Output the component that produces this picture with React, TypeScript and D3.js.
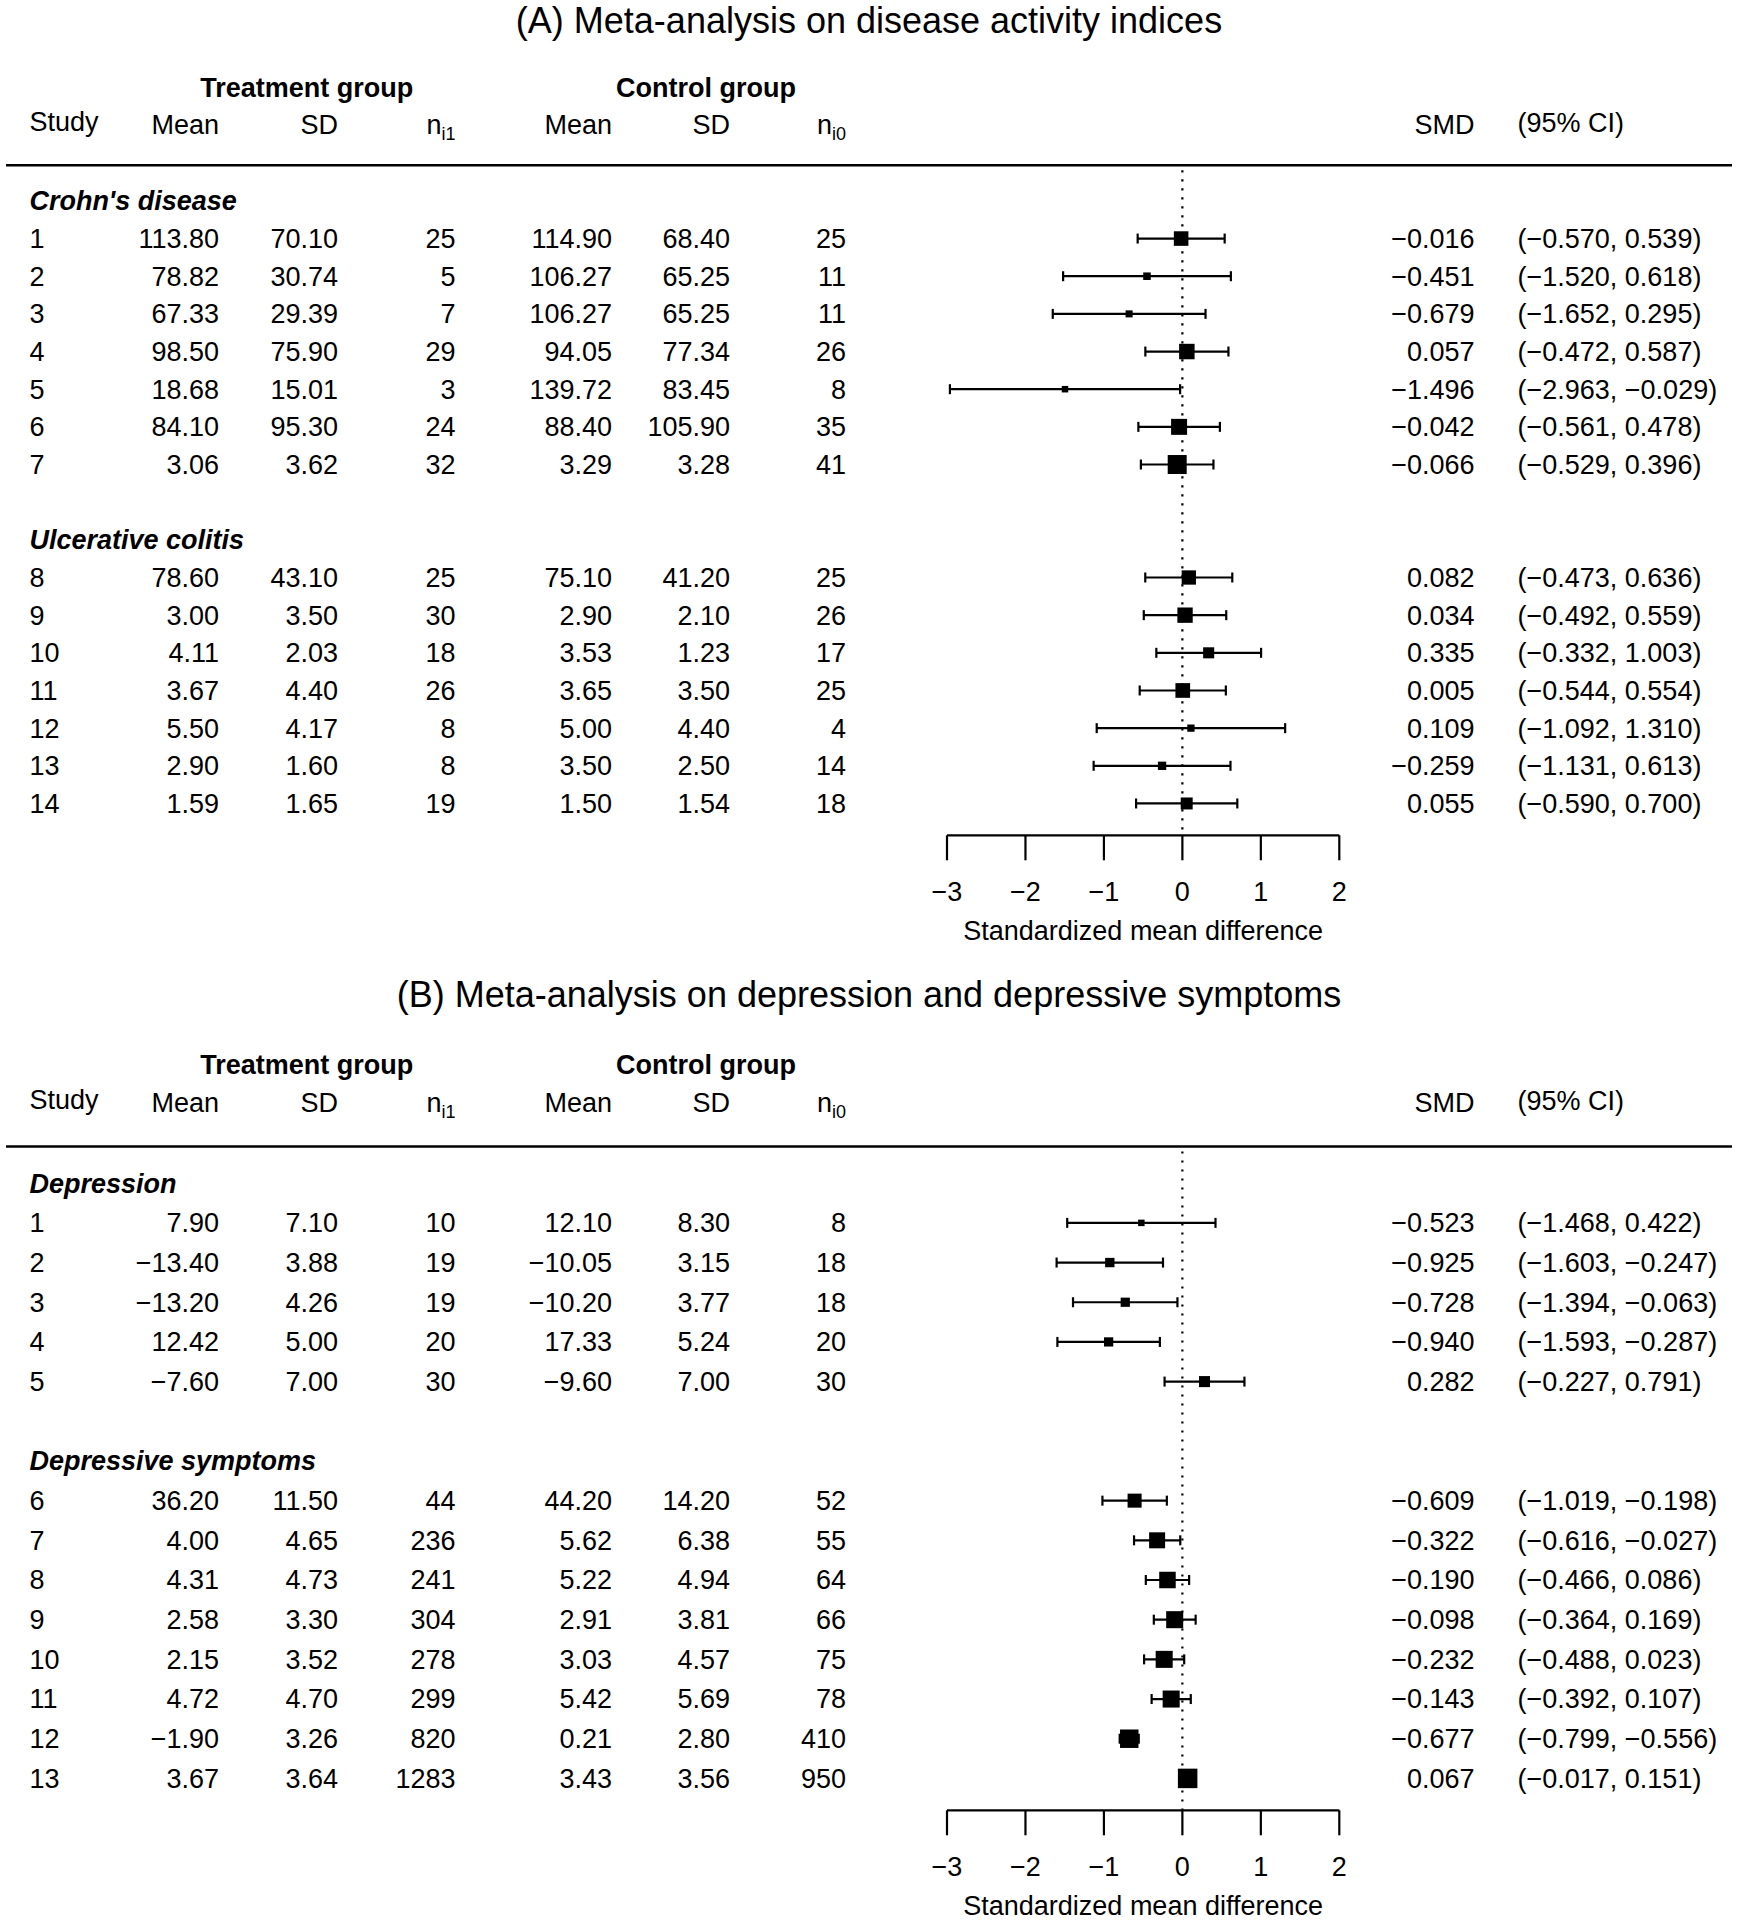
import React from "react";
import * as d3 from "d3";

// ---------- Panel A data ----------
const titleA = "(A) Meta-analysis on disease activity indices";
const groupLabelsA = ["Crohn's disease", "Ulcerative colitis"];
const groupSizesA = [7, 7];
const studyA = [1, 2, 3, 4, 5, 6, 7, 8, 9, 10, 11, 12, 13, 14];
const meanTA = [113.8, 78.82, 67.33, 98.5, 18.68, 84.1, 3.06, 78.6, 3.0, 4.11, 3.67, 5.5, 2.9, 1.59];
const sdTA = [70.1, 30.74, 29.39, 75.9, 15.01, 95.3, 3.62, 43.1, 3.5, 2.03, 4.4, 4.17, 1.6, 1.65];
const nTA = [25, 5, 7, 29, 3, 24, 32, 25, 30, 18, 26, 8, 8, 19];
const meanCA = [114.9, 106.27, 106.27, 94.05, 139.72, 88.4, 3.29, 75.1, 2.9, 3.53, 3.65, 5.0, 3.5, 1.5];
const sdCA = [68.4, 65.25, 65.25, 77.34, 83.45, 105.9, 3.28, 41.2, 2.1, 1.23, 3.5, 4.4, 2.5, 1.54];
const nCA = [25, 11, 11, 26, 8, 35, 41, 25, 26, 17, 25, 4, 14, 18];
const smdA = [-0.016, -0.451, -0.679, 0.057, -1.496, -0.042, -0.066, 0.082, 0.034, 0.335, 0.005, 0.109, -0.259, 0.055];
const lowerA = [-0.57, -1.52, -1.652, -0.472, -2.963, -0.561, -0.529, -0.473, -0.492, -0.332, -0.544, -1.092, -1.131, -0.59];
const upperA = [0.539, 0.618, 0.295, 0.587, -0.029, 0.478, 0.396, 0.636, 0.559, 1.003, 0.554, 1.31, 0.613, 0.7];
const weightA = [1.12, 0.58, 0.54, 1.19, 0.5, 1.23, 1.46, 1.1, 1.18, 0.85, 1.13, 0.56, 0.64, 0.92];

// ---------- Panel B data ----------
const titleB = "(B) Meta-analysis on depression and depressive symptoms";
const groupLabelsB = ["Depression", "Depressive symptoms"];
const groupSizesB = [5, 8];
const studyB = [1, 2, 3, 4, 5, 6, 7, 8, 9, 10, 11, 12, 13];
const meanTB = [7.9, -13.4, -13.2, 12.42, -7.6, 36.2, 4.0, 4.31, 2.58, 2.15, 4.72, -1.9, 3.67];
const sdTB = [7.1, 3.88, 4.26, 5.0, 7.0, 11.5, 4.65, 4.73, 3.3, 3.52, 4.7, 3.26, 3.64];
const nTB = [10, 19, 19, 20, 30, 44, 236, 241, 304, 278, 299, 820, 1283];
const meanCB = [12.1, -10.05, -10.2, 17.33, -9.6, 44.2, 5.62, 5.22, 2.91, 3.03, 5.42, 0.21, 3.43];
const sdCB = [8.3, 3.15, 3.77, 5.24, 7.0, 14.2, 6.38, 4.94, 3.81, 4.57, 5.69, 2.8, 3.56];
const nCB = [8, 18, 18, 20, 30, 52, 55, 64, 66, 75, 78, 410, 950];
const smdB = [-0.523, -0.925, -0.728, -0.94, 0.282, -0.609, -0.322, -0.19, -0.098, -0.232, -0.143, -0.677, 0.067];
const lowerB = [-1.468, -1.603, -1.394, -1.593, -0.227, -1.019, -0.616, -0.466, -0.364, -0.488, -0.392, -0.799, -0.017];
const upperB = [0.422, -0.247, -0.063, -0.287, 0.791, -0.198, -0.027, 0.086, 0.169, 0.023, 0.107, -0.556, 0.151];
const weightB = [0.5, 0.72, 0.71, 0.71, 0.85, 1.08, 1.23, 1.27, 1.31, 1.31, 1.31, 1.42, 1.5];

// axis
const axisTicks = [-3, -2, -1, 0, 1, 2];
const axisTitle = "Standardized mean difference";

const FONT = "'Liberation Sans', Arial, Helvetica, sans-serif";
const FS = 27;
const TITLE_FS = 36;
const fmt2 = d3.format(".2f");
const fmt3 = d3.format(".3f");
const fmtTick = d3.format("d");

const W = 1738;
const H = 1920;

const COL = {
  study: 29.4,
  meanT: 219,
  sdT: 338,
  nT: 455.6,
  meanC: 612,
  sdC: 730,
  nC: 846,
  smd: 1474.6,
  ci: 1517.5,
  treatHdr: 306.8,
  ctrlHdr: 706,
};

const x = d3.scaleLinear().domain([-3, 2]).range([947, 1339.3]);
const markerSize = d3.scaleLinear().domain([0, 1]).range([0, 13]);

type PanelProps = {
  title: string;
  groupLabels: string[];
  groupSizes: number[];
  study: number[];
  meanT: number[];
  sdT: number[];
  nT: number[];
  meanC: number[];
  sdC: number[];
  nC: number[];
  smd: number[];
  lower: number[];
  upper: number[];
  weight: number[];
  geo: {
    titleY: number;
    groupHdrY: number;
    colHdrY: number;
    hlineY: number;
    firstRowY: number;
    step: number;
    axisY: number;
  };
};

function Txt(props: any) {
  const { children, ...rest } = props;
  return (
    <text fontFamily={FONT} fontSize={FS} fill="#000" dy="0.35em" {...rest}>
      {children}
    </text>
  );
}

function Panel(p: PanelProps) {
  const g = p.geo;
  const rowY = d3.scaleLinear().domain([0, 1]).range([g.firstRowY, g.firstRowY + g.step]);

  const labelRows: { label: string; idx: number }[] = [];
  const studyRows: number[] = [];
  let idx = 0;
  let s = 0;
  p.groupLabels.forEach((lab, gi) => {
    labelRows.push({ label: lab, idx });
    for (let k = 0; k < p.groupSizes[gi]; k++) {
      studyRows[s] = idx + 1 + k;
      s++;
    }
    idx = idx + p.groupSizes[gi] + 2;
  });

  const capH = 5;

  return (
    <g>
      <Txt x={W / 2} y={g.titleY} textAnchor="middle" fontSize={TITLE_FS}>
        {p.title}
      </Txt>
      <Txt x={COL.treatHdr} y={g.groupHdrY} textAnchor="middle" fontWeight="bold">
        Treatment group
      </Txt>
      <Txt x={COL.ctrlHdr} y={g.groupHdrY} textAnchor="middle" fontWeight="bold">
        Control group
      </Txt>
      <Txt x={COL.study} y={g.colHdrY - 3}>Study</Txt>
      <Txt x={COL.meanT} y={g.colHdrY} textAnchor="end">Mean</Txt>
      <Txt x={COL.sdT} y={g.colHdrY} textAnchor="end">SD</Txt>
      <text fontFamily={FONT} fontSize={FS} x={COL.nT} y={g.colHdrY} dy="0.35em" textAnchor="end">
        n
        <tspan fontSize={18} dy={6}>i1</tspan>
      </text>
      <Txt x={COL.meanC} y={g.colHdrY} textAnchor="end">Mean</Txt>
      <Txt x={COL.sdC} y={g.colHdrY} textAnchor="end">SD</Txt>
      <text fontFamily={FONT} fontSize={FS} x={COL.nC} y={g.colHdrY} dy="0.35em" textAnchor="end">
        n
        <tspan fontSize={18} dy={6}>i0</tspan>
      </text>
      <Txt x={COL.smd} y={g.colHdrY} textAnchor="end">SMD</Txt>
      <Txt x={COL.ci} y={g.colHdrY - 2}>(95% CI)</Txt>

      <line x1={6} x2={1732} y1={g.hlineY} y2={g.hlineY} stroke="#000" strokeWidth={2.5} />

      <line
        x1={x(0)}
        x2={x(0)}
        y1={g.hlineY + 5}
        y2={g.axisY}
        stroke="#000"
        strokeWidth={2.2}
        strokeDasharray="2.2,6.8"
      />

      {labelRows.map((l) => (
        <Txt key={l.label} x={COL.study} y={rowY(l.idx)} fontWeight="bold" fontStyle="italic">
          {l.label}
        </Txt>
      ))}

      {p.study.map((st, i) => {
        const y = rowY(studyRows[i]);
        const sz = markerSize(p.weight[i]);
        return (
          <g key={st}>
            <Txt x={COL.study} y={y}>{String(st)}</Txt>
            <Txt x={COL.meanT} y={y} textAnchor="end">{fmt2(p.meanT[i])}</Txt>
            <Txt x={COL.sdT} y={y} textAnchor="end">{fmt2(p.sdT[i])}</Txt>
            <Txt x={COL.nT} y={y} textAnchor="end">{String(p.nT[i])}</Txt>
            <Txt x={COL.meanC} y={y} textAnchor="end">{fmt2(p.meanC[i])}</Txt>
            <Txt x={COL.sdC} y={y} textAnchor="end">{fmt2(p.sdC[i])}</Txt>
            <Txt x={COL.nC} y={y} textAnchor="end">{String(p.nC[i])}</Txt>
            <Txt x={COL.smd} y={y} textAnchor="end">{fmt3(p.smd[i])}</Txt>
            <Txt x={COL.ci} y={y}>{`(${fmt3(p.lower[i])}, ${fmt3(p.upper[i])})`}</Txt>

            <line x1={x(p.lower[i])} x2={x(p.upper[i])} y1={y} y2={y} stroke="#000" strokeWidth={2.2} />
            <line x1={x(p.lower[i])} x2={x(p.lower[i])} y1={y - capH} y2={y + capH} stroke="#000" strokeWidth={2.2} />
            <line x1={x(p.upper[i])} x2={x(p.upper[i])} y1={y - capH} y2={y + capH} stroke="#000" strokeWidth={2.2} />
            <rect x={x(p.smd[i]) - sz / 2} y={y - sz / 2} width={sz} height={sz} fill="#000" />
          </g>
        );
      })}

      <line
        x1={x(axisTicks[0])}
        x2={x(axisTicks[axisTicks.length - 1])}
        y1={g.axisY}
        y2={g.axisY}
        stroke="#000"
        strokeWidth={2.2}
      />
      {axisTicks.map((t) => (
        <g key={t}>
          <line x1={x(t)} x2={x(t)} y1={g.axisY} y2={g.axisY + 25} stroke="#000" strokeWidth={2.2} />
          <Txt x={x(t)} y={g.axisY + 56} textAnchor="middle">
            {fmtTick(t)}
          </Txt>
        </g>
      ))}
      <Txt x={(x(-3) + x(2)) / 2} y={g.axisY + 95} textAnchor="middle">
        {axisTitle}
      </Txt>
    </g>
  );
}

export default function App() {
  return (
    <svg
      width={W}
      height={H}
      viewBox={`0 0 ${W} ${H}`}
      style={{ position: "absolute", left: 0, top: 0, background: "#fff", display: "block" }}
    >
      <rect x={0} y={0} width={W} height={H} fill="#fff" />
      <Panel
        title={titleA}
        groupLabels={groupLabelsA}
        groupSizes={groupSizesA}
        study={studyA}
        meanT={meanTA}
        sdT={sdTA}
        nT={nTA}
        meanC={meanCA}
        sdC={sdCA}
        nC={nCA}
        smd={smdA}
        lower={lowerA}
        upper={upperA}
        weight={weightA}
        geo={{ titleY: 20, groupHdrY: 88, colHdrY: 125, hlineY: 165.3, firstRowY: 200.9, step: 37.66, axisY: 835.3 }}
      />
      <Panel
        title={titleB}
        groupLabels={groupLabelsB}
        groupSizes={groupSizesB}
        study={studyB}
        meanT={meanTB}
        sdT={sdTB}
        nT={nTB}
        meanC={meanCB}
        sdC={sdCB}
        nC={nCB}
        smd={smdB}
        lower={lowerB}
        upper={upperB}
        weight={weightB}
        geo={{ titleY: 994.5, groupHdrY: 1064.4, colHdrY: 1103, hlineY: 1146.4, firstRowY: 1183.2, step: 39.68, axisY: 1810.3 }}
      />
    </svg>
  );
}
